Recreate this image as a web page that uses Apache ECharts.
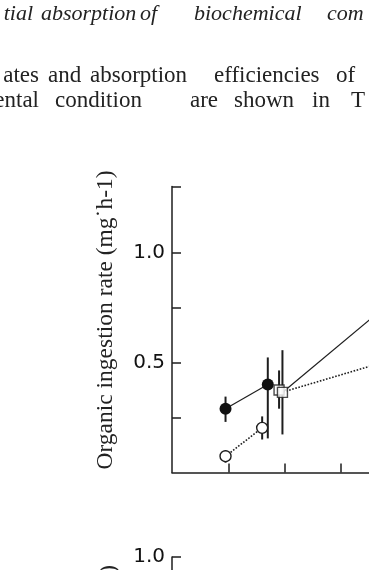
<!DOCTYPE html>
<html><head><meta charset="utf-8">
<script src="https://cdn.jsdelivr.net/npm/echarts@6/dist/echarts.min.js"></script>
<style>html,body{margin:0;padding:0;background:#fff}#c{width:369px;height:570px}</style>
</head><body><div id="c"></div>
<script>
// ---- data ----
const filledX = [0.95, 1.70];
const filledY = [0.29, 0.40];
const filledLo = [0.23, 0.155];
const filledHi = [0.345, 0.523];

const openX = [0.95, 1.60];
const openY = [0.074, 0.203];
const openLo = [0.045, 0.15];
const openHi = [0.10, 0.255];

const squareX = [1.90, 1.96];
const squareY = [0.375, 0.364];
const squareLo = [0.29, 0.173];
const squareHi = [0.464, 0.556];

const solidTrendX = [1.97, 4.0];
const solidTrendY = [0.366, 0.80];
const dottedTrendX = [1.97, 4.0];
const dottedTrendY = [0.366, 0.52];

const xTickValues = [1, 2, 3];
const yTickValues = [0.25, 0.5, 0.75, 1.0, 1.3];
const yLabelValues = [0.5, 1.0];
const y2TickValues = [1.0];
const yTitle = 'Organic ingestion rate (mg\u02D9h-1)';
const y2Title = 'Absorption efficiency (%)';

// [word, x, anchor]
const line1 = [['tial',33,'right'],['absorption',41],['of',140],['biochemical',194],['com',327]];
const line2 = [['ates',39,'right'],['and',48],['absorption',90],['efficiencies',214],['of',336]];
const line3 = [['nental',39,'right'],['condition',55],['are',190],['shown',234],['in',312],['T',351]];

// ---- chart ----
const ink = '#1e1e1e';
const zip = (a, b) => a.map((v, i) => [v, b[i]]);
function errSeries(xs, lo, hi) {
  return {
    type: 'custom', xAxisIndex: 0, yAxisIndex: 0, z: 1, silent: true,
    encode: { x: 0, y: [1, 2] },
    data: xs.map((x, i) => [x, lo[i], hi[i]]),
    renderItem: (p, api) => {
      const a = api.coord([api.value(0), api.value(1)]);
      const b = api.coord([api.value(0), api.value(2)]);
      return { type: 'line', shape: { x1: a[0], y1: a[1], x2: b[0], y2: b[1] },
               style: { stroke: ink, lineWidth: 2 } };
    }
  };
}
function words(list, y, font) {
  return list.map(([t, x, al]) => ({
    type: 'text', x: x, y: y,
    style: { text: t, font: font, fill: '#222', align: al || 'left', verticalAlign: 'middle' }
  }));
}
const labelFont = { fontFamily: 'DejaVu Sans', fontSize: 20, color: '#111' };

// x pixels per unit ≈ 56.35, y-axis at x=172 -> right canvas edge = 3.496 units
const chart = echarts.init(document.getElementById('c'), null, { renderer: 'canvas' });
chart.setOption({
  animation: false,
  backgroundColor: '#fff',
  grid: [
    { left: 172, top: 186.5, right: 0, height: 286 },
    { left: 172, top: 557, right: 0, height: 286 }
  ],
  xAxis: [
    { gridIndex: 0, type: 'value', min: 0, max: 3.496,
      axisLine: { show: true, lineStyle: { color: ink, width: 1.5 } },
      axisTick: { show: true, inside: true, length: 9, customValues: xTickValues,
                  lineStyle: { color: ink, width: 1.5 } },
      axisLabel: { show: false }, splitLine: { show: false } },
    { gridIndex: 1, type: 'value', min: 0, max: 3.496, show: false }
  ],
  yAxis: [
    { gridIndex: 0, type: 'value', min: 0, max: 1.3,
      axisLine: { show: true, lineStyle: { color: ink, width: 1.5 } },
      axisTick: { show: true, inside: true, length: 9, customValues: yTickValues,
                  lineStyle: { color: ink, width: 1.5 } },
      axisLabel: Object.assign({ show: true, margin: 7, customValues: yLabelValues,
                  formatter: v => Number(v).toFixed(1) }, labelFont),
      splitLine: { show: false } },
    { gridIndex: 1, type: 'value', min: 0, max: 1,
      axisLine: { show: true, lineStyle: { color: ink, width: 1.5 } },
      axisTick: { show: true, inside: true, length: 9, customValues: y2TickValues,
                  lineStyle: { color: ink, width: 1.5 } },
      axisLabel: Object.assign({ show: true, margin: 7, customValues: y2TickValues,
                  formatter: v => Number(v).toFixed(1) }, labelFont),
      splitLine: { show: false } }
  ],
  series: [
    errSeries(filledX, filledLo, filledHi),
    errSeries(openX, openLo, openHi),
    errSeries(squareX, squareLo, squareHi),
    { type: 'line', data: zip(solidTrendX, solidTrendY), symbol: 'none', z: 2,
      lineStyle: { color: ink, width: 1.2 } },
    { type: 'line', data: zip(dottedTrendX, dottedTrendY), symbol: 'none', z: 2,
      lineStyle: { color: ink, width: 1.6, type: [1.6, 1.6] } },
    { type: 'line', data: zip(filledX, filledY), symbol: 'circle', symbolSize: 12, z: 3,
      itemStyle: { color: '#111' }, lineStyle: { color: ink, width: 1.2 } },
    { type: 'line', data: zip(openX, openY), symbol: 'circle', symbolSize: 11, z: 3,
      itemStyle: { color: '#fff', borderColor: ink, borderWidth: 1.4 },
      lineStyle: { color: ink, width: 1.6, type: [1.6, 1.6] } },
    { type: 'scatter', data: zip(squareX, squareY), symbol: 'rect', symbolSize: 10, z: 3,
      itemStyle: { color: '#fff', borderColor: ink, borderWidth: 1.4 } }
  ],
  graphic: [
    ...words(line1, 14, 'italic 22px "Liberation Serif"'),
    ...words(line2, 76, '23px "Liberation Serif"'),
    ...words(line3, 101, '23px "Liberation Serif"'),
    { type: 'text', x: 106, y: 320, rotation: Math.PI / 2,
      style: { text: yTitle, font: '23.5px "Liberation Serif"', fill: '#222',
               align: 'center', verticalAlign: 'middle' } },
    { type: 'text', x: 109, y: 565, rotation: Math.PI / 2,
      style: { text: y2Title, font: '23px "Liberation Serif"', fill: '#222',
               align: 'right', verticalAlign: 'middle' } }
  ]
});
</script></body></html>
